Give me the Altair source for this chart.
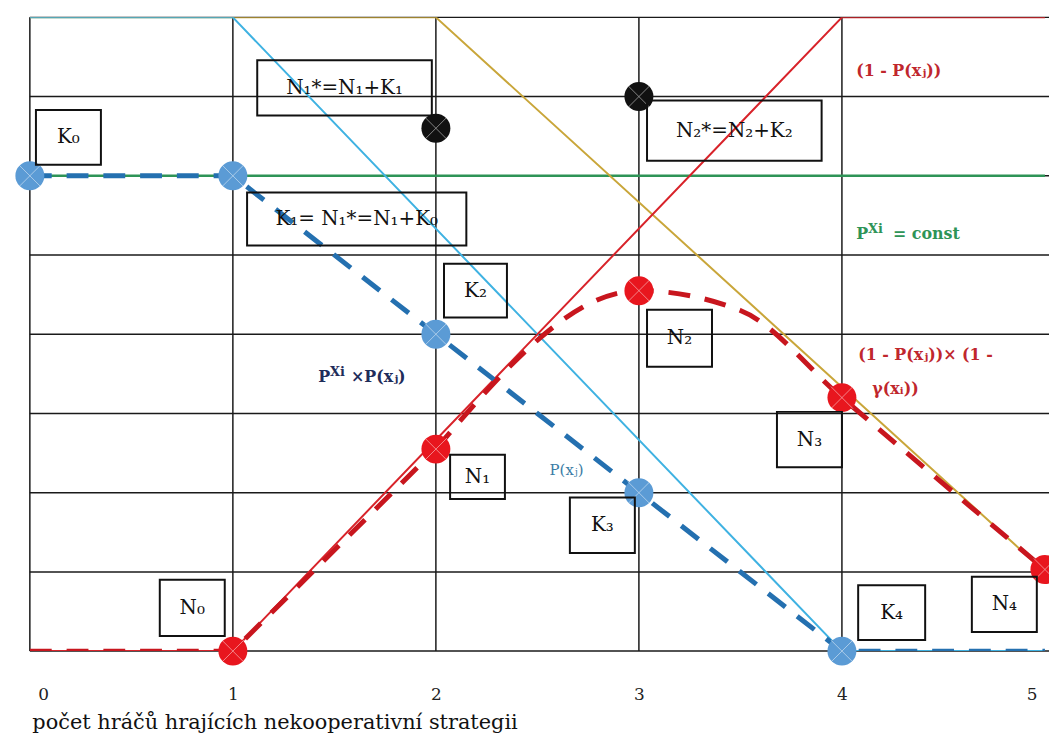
import altair as alt
import pandas as pd

FONT = "DejaVu Serif"

# ---------------- data ----------------
tick_vals = [0, 1, 2, 3, 4, 5]
grid_x = [0, 1, 2, 3, 4]
grid_y = [0, 1, 2, 3, 4, 5, 6, 7, 8]

# P(x_j)  (light blue)
p_x = [0, 1, 4, 5]
p_y = [8, 8, 0, 0]
# 1 - P(x_j)  (red)
q_x = [0, 1, 4, 5]
q_y = [0, 0, 8, 8]
# 1 - gamma  (gold)
g_x = [0, 2, 5]
g_y = [8, 8, 1]
# P^Xi = const (green)
c_x = [0, 5]
c_y = [6, 6]
# P^Xi x P(x_j)  (blue dashed, K points)
k_x = [0, 1, 2, 3, 4, 5]
k_y = [6, 6, 4, 2, 0, 0]
k_pts_x = [0, 1, 2, 3, 4]
k_pts_y = [6, 6, 4, 2, 0]
# (1-P(x_j)) x (1-gamma(x_i))  (red dashed, N points)
n_lin_x = [0, 1, 2]
n_lin_y = [0, 0, 2.55]
n_cur_x = [2, 3, 3.5, 4, 5]
n_cur_y = [2.55, 4.55, 4.3, 3.2, 1.03]
n_pts_x = [1, 2, 3, 4, 5]
n_pts_y = [0, 2.55, 4.55, 3.2, 1.03]
# N* (black)
s_x = [2, 3]
s_y = [6.6, 7.0]

# boxed labels
box_text = ["K₀", "N₁*=N₁+K₁", "K₁= N₁*=N₁+K₀", "N₂*=N₂+K₂", "K₂", "N₂", "N₃",
            "N₁", "K₃", "N₀", "K₄", "N₄"]
box_x1 = [0.03, 1.12, 1.07, 3.04, 2.04, 3.04, 3.68, 2.07, 2.66, 0.64, 4.08, 4.64]
box_x2 = [0.35, 1.98, 2.15, 3.90, 2.35, 3.36, 4.00, 2.34, 2.98, 0.96, 4.41, 4.96]
box_y1 = [6.14, 6.76, 5.12, 6.19, 4.21, 3.59, 2.32, 1.92, 1.24, 0.19, 0.14, 0.24]
box_y2 = [6.83, 7.46, 5.79, 6.95, 4.89, 4.31, 3.02, 2.48, 1.94, 0.90, 0.83, 0.94]

AXIS_TITLE = "počet hráčů hrajících nekooperativní strategii"

# ---------------- scales ----------------
xs = alt.Scale(domain=[0, 5.02], nice=False, zero=False)
ys = alt.Scale(domain=[0, 8], nice=False, zero=False)
xaxis = alt.Axis(values=tick_vals, grid=False, domain=False, ticks=False,
                 labelFont=FONT, labelFontSize=17, labelColor="#222",
                 labelPadding=36, labelAngle=0,
                 labelFlush=10, labelFlushOffset=-8,
                 title=AXIS_TITLE, titleFont=FONT, titleFontSize=21,
                 titleFontWeight="normal", titleColor="#111",
                 titleAnchor="start", titleAlign="left", titleX=2, titleY=78,
                 titleBaseline="alphabetic")


def X(field="x"):
    return alt.X(f"{field}:Q", scale=xs, axis=xaxis)


def Y(field="y"):
    return alt.Y(f"{field}:Q", scale=ys, axis=None)


def df(xv, yv):
    return pd.DataFrame({"x": xv, "y": yv})


def line(xv, yv, color, width, dash=None, interp="linear"):
    kw = dict(color=color, strokeWidth=width, interpolate=interp, clip=True)
    if dash:
        kw["strokeDash"] = dash
    return alt.Chart(df(xv, yv)).mark_line(**kw).encode(x=X(), y=Y())


def dots(xv, yv, color, size=850):
    base = alt.Chart(df(xv, yv))
    c = base.mark_circle(color=color, size=size, opacity=1).encode(x=X(), y=Y())
    xmark = base.mark_point(shape="M-1,-1L1,1M-1,1L1,-1", filled=False, stroke="white",
                            strokeWidth=0.8, opacity=0.6, size=500).encode(x=X(), y=Y())
    return [c, xmark]


def txt(x, y, t, color, size, weight="normal", dx=0, dy=0, align="left"):
    return alt.Chart(pd.DataFrame({"x": [x], "y": [y], "t": [t]})).mark_text(
        font=FONT, fontSize=size, fontWeight=weight, color=color, align=align,
        baseline="middle", dx=dx, dy=dy).encode(x=X(), y=Y(), text="t:N")


layers = []
# grid
layers.append(alt.Chart(pd.DataFrame({"x": grid_x})).mark_rule(
    color="#1a1a1a", strokeWidth=1.5).encode(x=X()))
layers.append(alt.Chart(pd.DataFrame({"y": grid_y})).mark_rule(
    color="#1a1a1a", strokeWidth=1.5).encode(y=Y()))

# curves
layers.append(line(c_x, c_y, "#2E9457", 2.5))
layers.append(line(g_x, g_y, "#C9A63A", 2))
layers.append(line(p_x, p_y, "#3FB2E2", 2))
layers.append(line(q_x, q_y, "#D8232A", 2))
layers.append(line(k_x, k_y, "#2470B0", 5, dash=[22, 15]))
layers.append(line(n_lin_x, n_lin_y, "#C8161E", 5, dash=[22, 15]))
layers.append(line(n_cur_x, n_cur_y, "#C8161E", 5, dash=[22, 15], interp="monotone"))

# points
layers += dots(k_pts_x, k_pts_y, "#5B9BD5")
layers += dots(n_pts_x, n_pts_y, "#E8161E")
layers += dots(s_x, s_y, "#111111")

# boxes
boxes = pd.DataFrame({"x1": box_x1, "x2": box_x2, "y1": box_y1, "y2": box_y2, "t": box_text})
layers.append(alt.Chart(boxes).mark_rect(fillOpacity=0, stroke="#111", strokeWidth=2).encode(
    x=X("x1"), x2="x2:Q", y=Y("y1"), y2="y2:Q"))
boxes["cx"] = (boxes["x1"] + boxes["x2"]) / 2
boxes["cy"] = (boxes["y1"] + boxes["y2"]) / 2
layers.append(alt.Chart(boxes).mark_text(font=FONT, fontSize=20, color="#111",
                                         align="center", baseline="middle").encode(
    x=X("cx"), y=Y("cy"), text="t:N"))

# free labels
RED = "#C0272D"
GREEN = "#2E9457"
NAVY = "#1F2D5A"
layers.append(txt(4.07, 7.32, "(1 - P(xⱼ))", RED, 16, "bold"))
layers.append(txt(4.07, 5.27, "P", GREEN, 16, "bold"))
layers.append(txt(4.07, 5.27, "Xi", GREEN, 13, "bold", dx=12, dy=-5))
layers.append(txt(4.07, 5.27, "= const", GREEN, 16, "bold", dx=37))
layers.append(txt(1.42, 3.46, "P", NAVY, 16, "bold"))
layers.append(txt(1.42, 3.46, "Xi", NAVY, 13, "bold", dx=12, dy=-5))
layers.append(txt(1.42, 3.46, "×P(xⱼ)", NAVY, 16, "bold", dx=33))
layers.append(txt(4.08, 3.74, "(1 - P(xⱼ))× (1 -", RED, 16, "bold"))
layers.append(txt(4.15, 3.31, "γ(xᵢ))", RED, 16, "bold"))
layers.append(txt(2.56, 2.28, "P(xⱼ)", "#3A7CA5", 15))

chart = alt.layer(*layers).properties(
    width=1026, height=638,
    padding={"left": 22, "top": 7, "right": 0, "bottom": 80},
    autosize=alt.AutoSizeParams(type="none"),
    background="white",
).configure_view(stroke=None)

chart.save("out.html", embed_options={"renderer": "svg", "actions": False})
